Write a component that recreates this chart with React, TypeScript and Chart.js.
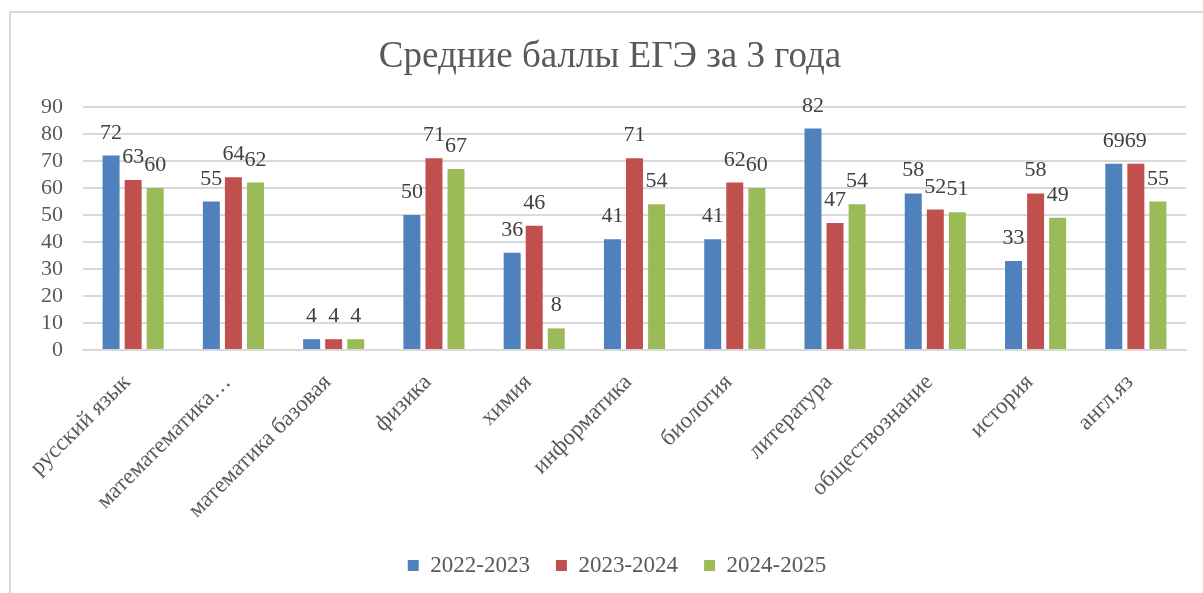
import React, { useEffect, useRef } from "react";
import { Chart, registerables } from "chart.js";

Chart.register(...registerables);

const categories = [
  "русский язык",
  "математематика…",
  "математика базовая",
  "физика",
  "химия",
  "информатика",
  "биология",
  "литература",
  "обществознание",
  "история",
  "англ.яз",
];
const series2022 = [72, 55, 4, 50, 36, 41, 41, 82, 58, 33, 69];
const series2023 = [63, 64, 4, 71, 46, 71, 62, 47, 52, 58, 69];
const series2024 = [60, 62, 4, 67, 8, 54, 60, 54, 51, 49, 55];
const seriesNames = ["2022-2023", "2023-2024", "2024-2025"];
const seriesColors = ["#4F81BD", "#C0504D", "#9BBB59"];
const yTicksMin = 0;
const yTicksMax = 90;
const yTicksStep = 10;

const FONT = "'Liberation Serif', 'Times New Roman', serif";
const TEXT = "#595959";

const dataLabelPlugin = {
  id: "dataLabels",
  afterDatasetsDraw(chart: any) {
    const ctx = chart.ctx;
    ctx.save();
    ctx.font = `22px ${FONT}`;
    ctx.fillStyle = "#404040";
    ctx.textAlign = "center";
    ctx.textBaseline = "alphabetic";
    chart.data.datasets.forEach((ds: any, di: number) => {
      const meta = chart.getDatasetMeta(di);
      meta.data.forEach((bar: any, i: number) => {
        ctx.fillText(String(ds.data[i]), bar.x, bar.y - 17);
      });
    });
    ctx.restore();
  },
};

const boxShiftPlugin = {
  id: "boxShift",
  afterLayout(chart: any) {
    const lg = chart.legend;
    if (lg) {
      lg.left += 24;
      lg.right += 24;
    }
    const tb = chart.titleBlock;
    if (tb) {
      tb.left += 17;
      tb.right += 17;
    }
  },
};

export default function App() {
  const ref = useRef<HTMLCanvasElement | null>(null);
  useEffect(() => {
    if (!ref.current) return;
    const chart = new Chart(ref.current, {
      type: "bar",
      data: {
        labels: categories,
        datasets: [series2022, series2023, series2024].map((d, i) => ({
          label: seriesNames[i],
          data: d,
          backgroundColor: seriesColors[i],
          categoryPercentage: 0.66,
          barPercentage: 0.77,
        })),
      },
      options: {
        animation: false,
        responsive: false,
        layout: { padding: { left: 0, right: 17, top: 0, bottom: 6 } },
        plugins: {
          title: {
            display: true,
            text: "Средние баллы ЕГЭ за 3 года",
            color: TEXT,
            font: { family: FONT, size: 37, weight: "normal" },
            padding: { top: 35, bottom: 27.6 },
          },
          legend: {
            position: "bottom",
            labels: {
              boxWidth: 11,
              boxHeight: 11,
              padding: 26,
              color: TEXT,
              font: { family: FONT, size: 23 },
            },
          },
          tooltip: { enabled: false },
        },
        scales: {
          x: {
            grid: { display: false, drawTicks: false },
            border: { color: "#d9d9d9", width: 2 },
            ticks: {
              autoSkip: false,
              minRotation: 45,
              maxRotation: 45,
              padding: 19,
              labelOffset: -6,
              color: TEXT,
              font: { family: FONT, size: 23 },
            },
            afterFit(scale: any) {
              scale.height = 178;
            },
          },
          y: {
            min: yTicksMin,
            max: yTicksMax,
            ticks: {
              stepSize: yTicksStep,
              autoSkip: false,
              padding: 20,
              color: TEXT,
              font: { family: FONT, size: 22 },
            },
            grid: { color: "#d9d9d9", lineWidth: 2, drawTicks: false },
            border: { display: false },
            afterFit(scale: any) {
              scale.width = 83;
            },
          },
        },
      },
      plugins: [dataLabelPlugin, boxShiftPlugin],
    });
    return () => chart.destroy();
  }, []);

  return (
    <div
      style={{
        position: "fixed",
        left: 0,
        top: 0,
        width: 1203,
        height: 593,
        overflow: "hidden",
        background: "#fff",
      }}
    >
      <div
        style={{
          position: "absolute",
          left: 9,
          top: 11,
          width: 1400,
          height: 800,
          border: "2px solid #d9d9d9",
        }}
      />
      <canvas
        ref={ref}
        width={1203}
        height={593}
        style={{ position: "absolute", left: 0, top: 0 }}
      />
    </div>
  );
}
